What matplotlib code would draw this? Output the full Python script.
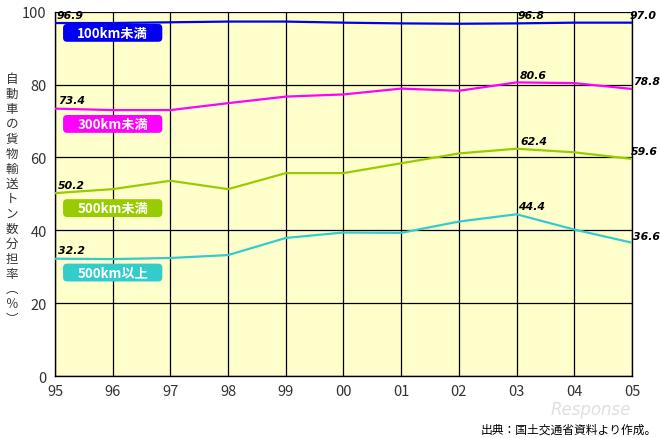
import matplotlib.pyplot as plt
from matplotlib.patches import FancyBboxPatch

plt.rcParams['font.family'] = ['Noto Sans CJK JP', 'DejaVu Sans']

# DATA
years = ["95", "96", "97", "98", "99", "00", "01", "02", "03", "04", "05"]
under_100 = [96.9, 96.9, 97.1, 97.3, 97.3, 97.0, 96.8, 96.7, 96.8, 97.0, 97.0]
under_300 = [73.4, 73.0, 73.0, 74.9, 76.7, 77.3, 78.9, 78.3, 80.6, 80.4, 78.8]
under_500 = [50.2, 51.3, 53.6, 51.3, 55.7, 55.7, 58.4, 61.1, 62.4, 61.4, 59.6]
over_500 = [32.2, 32.1, 32.4, 33.2, 37.9, 39.4, 39.3, 42.4, 44.4, 40.2, 36.6]

series_names = ["100km未満", "300km未満", "500km未満", "500km以上"]
line_colors = ["#0000ee", "#ff00ff", "#99cc00", "#33cccc"]
# where the name boxes sit (y value of box centre)
box_y = [94.2, 69.2, 46.1, 28.4]

y_ticks = [0, 20, 40, 60, 80, 100]
y_label = "自動車の貨物輸送トン数分担率︵％︶"
source = "出典：国土交通省資料より作成。"

x = list(range(len(years)))
all_series = [under_100, under_300, under_500, over_500]

fig = plt.figure(figsize=(6.6, 4.39), dpi=100)
ax = fig.add_axes([0.0833, 0.1412, 0.8743, 0.8298])
ax.set_facecolor("#ffffcc")

for vals, col in zip(all_series, line_colors):
    ax.plot(x, vals, color=col, lw=1.6, zorder=3)

ax.set_xlim(0, 10)
ax.set_ylim(0, 100)
ax.set_xticks(x)
ax.set_xticklabels(years)
ax.set_yticks(y_ticks)
ax.grid(True, color="black", lw=0.9)
ax.tick_params(length=0, labelsize=10.5, colors="#333333", pad=6)
for s in ax.spines.values():
    s.set_color("black")
    s.set_linewidth(1)
ax.spines["top"].set_visible(False)

# name boxes
for name, col, by in zip(series_names, line_colors, box_y):
    ax.add_patch(FancyBboxPatch((0.14, by - 2.45), 1.72, 4.9,
                                boxstyle="round,pad=0.0,rounding_size=0.07",
                                fc=col, ec="none", zorder=4,
                                mutation_aspect=15.8))
    ax.text(1.0, by, name, color="white", ha="center", va="center",
            fontsize=9.5, fontweight="bold", zorder=5)

# value labels: (series, index, x offset pts, y offset pts)
labels = [
    (0, 0, 1, 2), (0, 8, 1, 2.5), (0, 10, -1.5, 2),
    (1, 0, 2, 2.5), (1, 8, 2, 2), (1, 10, 1, 2),
    (2, 0, 2, 2.5), (2, 8, 3, 2), (2, 10, -1, 2),
    (3, 0, 2, 2.5), (3, 8, 1, 2), (3, 10, 1, 1),
]
for si, idx, dx, dy in labels:
    v = all_series[si][idx]
    ax.annotate(f"{v:.1f}", (x[idx], v), xytext=(dx, dy),
                textcoords="offset points", ha="left", va="bottom",
                fontsize=7.8, fontweight="bold", fontstyle="italic",
                family="DejaVu Sans", color="black", zorder=6,
                annotation_clip=False)

fig.text(0.018, 0.545, "\n".join(y_label), ha="center", va="center",
         fontsize=9, color="#333333", linespacing=1.2)

fig.text(0.895, 0.066, "Response", ha="center", va="center", fontsize=12,
         color="#e0e0e0", fontstyle="italic", family="DejaVu Sans")
fig.text(0.995, 0.006, source, ha="right", va="bottom", fontsize=8.5,
         color="black")

fig.savefig("out.png", dpi=100)
